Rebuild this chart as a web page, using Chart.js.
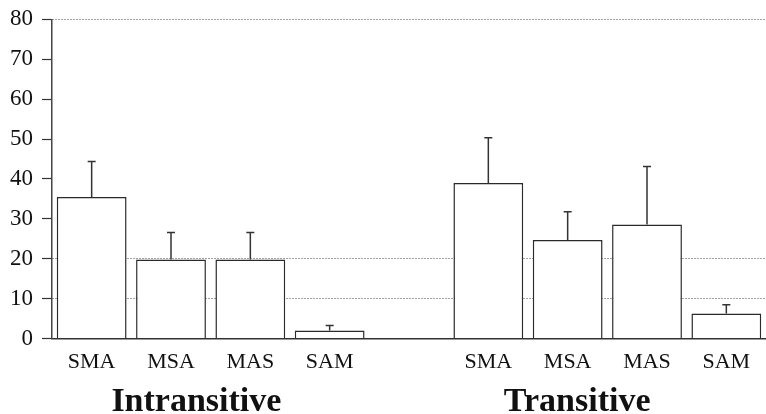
<!DOCTYPE html>
<html>
<head>
<meta charset="utf-8">
<script src="https://cdn.jsdelivr.net/npm/chart.js@4/dist/chart.umd.min.js"></script>
<style>
  html, body { margin: 0; padding: 0; background: #fff; }
  #wrap { width: 766px; height: 414px; }
</style>
</head>
<body>
<div id="wrap"><canvas id="c" width="766" height="414"></canvas></div>
<script>
// Categories (empty slot separates the two groups)
const categories = ['SMA', 'MSA', 'MAS', 'SAM', '', 'SMA', 'MSA', 'MAS', 'SAM'];
// Mean values
const values = [35.5, 19.8, 19.8, 2.0, null, 39.0, 24.7, 28.6, 6.3];
// Upper error (value + error = top of whisker)
const errors = [8.9, 6.8, 6.8, 1.3, null, 11.3, 7.1, 14.5, 2.2];
// Group labels and the category position they sit over
const groupLabels = ['Intransitive', 'Transitive'];
const groupCenters = [1.32, 6.12];
// Y tick labels
const yMin = 0, yMax = 80, yStep = 10;
const gridValues = [10, 20, 80];

const serif = '"Liberation Serif", "Times New Roman", serif';

const errorBarPlugin = {
  id: 'errorBars',
  afterDatasetsDraw(chart) {
    const ctx = chart.ctx;
    const meta = chart.getDatasetMeta(0);
    const y = chart.scales.y;
    ctx.save();
    ctx.strokeStyle = '#333';
    ctx.lineWidth = 1.5;
    meta.data.forEach((bar, i) => {
      if (values[i] == null || errors[i] == null) return;
      const top = y.getPixelForValue(values[i] + errors[i]);
      const base = y.getPixelForValue(values[i]);
      ctx.beginPath();
      ctx.moveTo(bar.x, base);
      ctx.lineTo(bar.x, top);
      ctx.moveTo(bar.x - 4, top);
      ctx.lineTo(bar.x + 4, top);
      ctx.stroke();
    });
    ctx.restore();
  }
};

const groupLabelPlugin = {
  id: 'groupLabels',
  afterDraw(chart) {
    const ctx = chart.ctx;
    const x = chart.scales.x;
    ctx.save();
    ctx.fillStyle = '#111';
    ctx.font = 'bold 34px ' + serif;
    ctx.textAlign = 'center';
    ctx.textBaseline = 'alphabetic';
    groupLabels.forEach((t, i) => {
      ctx.fillText(t, x.getPixelForValue(groupCenters[i]), 411);
    });
    ctx.restore();
  }
};

new Chart(document.getElementById('c'), {
  type: 'bar',
  data: {
    labels: categories,
    datasets: [{
      data: values,
      backgroundColor: '#ffffff',
      borderColor: '#2a2a2a',
      borderWidth: 1.5,
      barPercentage: 0.88,
      categoryPercentage: 1.0
    }]
  },
  options: {
    responsive: false,
    animation: false,
    layout: { padding: { top: 5, right: 0, bottom: 29, left: 1 } },
    plugins: {
      legend: { display: false },
      tooltip: { enabled: false }
    },
    scales: {
      x: {
        grid: { display: false, drawTicks: false },
        border: { display: true, color: '#333', width: 1.5 },
        ticks: {
          color: '#111',
          font: { family: serif, size: 22 },
          padding: 10,
          maxRotation: 0,
          autoSkip: false
        }
      },
      y: {
        min: yMin,
        max: yMax,
        ticks: {
          stepSize: yStep,
          color: '#111',
          font: { family: serif, size: 23, lineHeight: 0.9 },
          padding: 9
        },
        grid: {
          display: true,
          drawOnChartArea: true,
          drawTicks: true,
          tickLength: 10,
          tickColor: '#333',
          tickWidth: 1.2,
          tickBorderDash: [],
          color: (ctx) => (ctx.tick && gridValues.includes(ctx.tick.value)) ? '#444' : 'rgba(0,0,0,0)',
          lineWidth: 1
        },
        border: { display: true, color: '#444', width: 1.5, dash: [1, 2] }
      }
    }
  },
  plugins: [errorBarPlugin, groupLabelPlugin]
});
</script>
</body>
</html>
